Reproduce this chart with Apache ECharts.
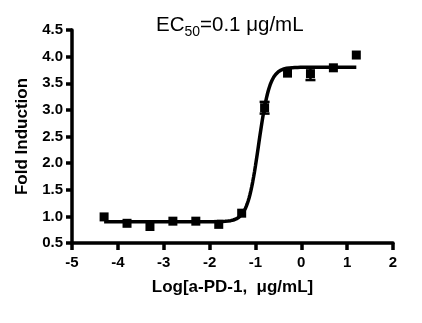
<!DOCTYPE html>
<html>
<head>
<meta charset="utf-8">
<script src="https://cdn.jsdelivr.net/npm/echarts@6/dist/echarts.min.js"></script>
<style>
  html, body { margin: 0; padding: 0; background: #fff; }
  #chart { width: 422px; height: 323px; }
</style>
</head>
<body>
<div id="chart"></div>
<script>
// Dose-response: fold induction vs log concentration of anti-PD-1 antibody
const logDose = [-4.3, -3.8, -3.3, -2.8, -2.3, -1.8, -1.3, -0.8, -0.3, 0.2, 0.7, 1.2];
const foldInduction = [0.99, 0.87, 0.81, 0.91, 0.91, 0.85, 1.06, 3.04, 3.69, 3.68, 3.79, 4.03];
// SEM; zero where the bar is smaller than the marker
const foldSem = [0, 0, 0, 0, 0, 0, 0, 0.11, 0, 0.12, 0, 0];

// Four-parameter logistic fit
const fitBottom = 0.90;
const fitTop = 3.80;
const fitLogEC50 = -0.93;
const fitHill = 3.55;
const fitRange = [-4.3, 1.2];

const xTicks = [-5, -4, -3, -2, -1, 0, 1, 2];
const yTicks = [0.5, 1.0, 1.5, 2.0, 2.5, 3.0, 3.5, 4.0, 4.5];

function logistic(x) {
  return fitBottom + (fitTop - fitBottom) / (1 + Math.pow(10, (fitLogEC50 - x) * fitHill));
}

const curve = [];
for (let i = 0; i <= 275; i++) {
  const x = fitRange[0] + (fitRange[1] - fitRange[0]) * i / 275;
  curve.push([x, logistic(x)]);
}

const points = logDose.map((x, i) => [x, foldInduction[i]]);
const bars = logDose
  .map((x, i) => [x, foldInduction[i] - foldSem[i], foldInduction[i] + foldSem[i], foldSem[i]])
  .filter(d => d[3] > 0);

const FONT = '"Liberation Sans", Arial, sans-serif';
const INK = '#000';

const chart = echarts.init(document.getElementById('chart'), null, { renderer: 'canvas' });
chart.setOption({
  animation: false,
  backgroundColor: '#fff',
  title: {
    text: '{a|EC}{s|50}{a|=0.1 μg/mL}',
    left: 151,
    top: 7,
    textStyle: {
      fontFamily: FONT,
      fontWeight: 'normal',
      lineHeight: 27,
      rich: {
        a: { fontFamily: FONT, fontSize: 20.5, fontWeight: 'normal', color: INK, verticalAlign: 'middle' },
        s: { fontFamily: FONT, fontSize: 14, fontWeight: 'normal', color: INK, verticalAlign: 'bottom' }
      }
    }
  },
  grid: { left: 72, right: 29, top: 30, bottom: 80, containLabel: false },
  xAxis: {
    type: 'value',
    min: xTicks[0],
    max: xTicks[xTicks.length - 1],
    interval: 1,
    name: 'Log[a-PD-1,  μg/mL]',
    nameLocation: 'middle',
    nameGap: 36,
    nameTextStyle: { fontFamily: FONT, fontSize: 17, fontWeight: 'bold', color: INK },
    axisLine: { show: true, onZero: false, lineStyle: { color: INK, width: 3.5 } },
    axisTick: { show: true, length: 7, lineStyle: { color: INK, width: 3.5 } },
    axisLabel: { fontFamily: FONT, fontSize: 15, fontWeight: 'bold', color: INK, margin: 12 },
    splitLine: { show: false }
  },
  yAxis: {
    type: 'value',
    min: yTicks[0],
    max: yTicks[yTicks.length - 1],
    interval: 0.5,
    name: 'Fold Induction',
    nameLocation: 'middle',
    nameGap: 38,
    nameTextStyle: { fontFamily: FONT, fontSize: 17, fontWeight: 'bold', color: INK },
    axisLine: { show: true, onZero: false, lineStyle: { color: INK, width: 3.5 } },
    axisTick: { show: true, length: 6, lineStyle: { color: INK, width: 3.5 } },
    axisLabel: {
      fontFamily: FONT, fontSize: 15, fontWeight: 'bold', color: INK, margin: 9,
      formatter: v => v.toFixed(1)
    },
    splitLine: { show: false }
  },
  series: [
    {
      name: 'fit',
      type: 'line',
      data: curve,
      showSymbol: false,
      symbol: 'none',
      smooth: false,
      lineStyle: { color: INK, width: 3.5 },
      z: 2
    },
    {
      name: 'sem',
      type: 'custom',
      data: bars,
      z: 3,
      renderItem: (params, api) => {
        const lo = api.coord([api.value(0), api.value(1)]);
        const hi = api.coord([api.value(0), api.value(2)]);
        const cap = 5;
        const style = { stroke: INK, lineWidth: 2.5 };
        return {
          type: 'group',
          children: [
            { type: 'line', shape: { x1: lo[0], y1: lo[1], x2: hi[0], y2: hi[1] }, style },
            { type: 'line', shape: { x1: lo[0] - cap, y1: lo[1], x2: lo[0] + cap, y2: lo[1] }, style },
            { type: 'line', shape: { x1: hi[0] - cap, y1: hi[1], x2: hi[0] + cap, y2: hi[1] }, style }
          ]
        };
      }
    },
    {
      name: 'mean',
      type: 'scatter',
      data: points,
      symbol: 'rect',
      symbolSize: 9,
      itemStyle: { color: INK, opacity: 1 },
      z: 4
    }
  ]
});
</script>
</body>
</html>
